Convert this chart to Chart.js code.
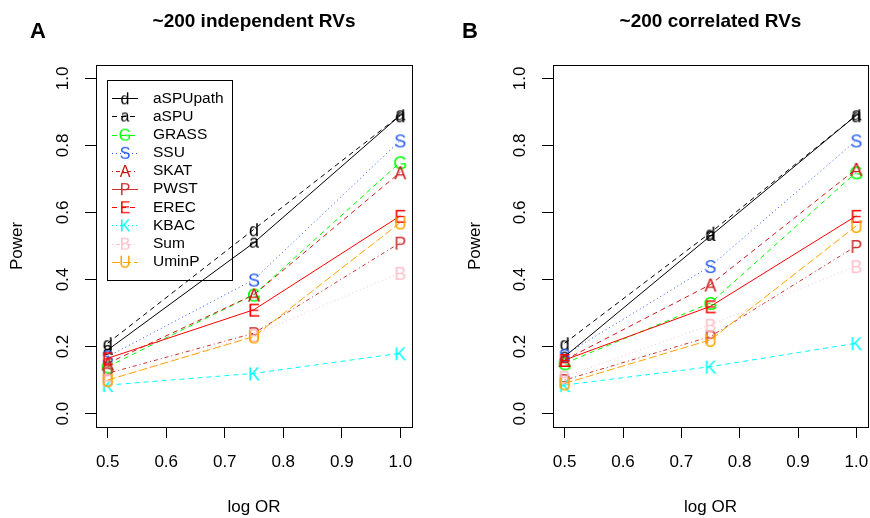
<!DOCTYPE html>
<html>
<head>
<meta charset="utf-8">
<script src="https://cdn.jsdelivr.net/npm/chart.js@4.4.0/dist/chart.umd.min.js"></script>
<style>
  html, body { margin: 0; padding: 0; background: #fff; }
  #wrap { position: relative; width: 870px; height: 518px; }
  .panel { position: absolute; top: 0; width: 435px; height: 518px; }
  #panelA { left: 0; }
  #panelB { left: 435px; }
</style>
</head>
<body>
<div id="wrap">
  <div class="panel" id="panelA"><canvas id="chartA" width="435" height="518"></canvas></div>
  <div class="panel" id="panelB"><canvas id="chartB" width="435" height="518"></canvas></div>
</div>
<script>
// --- data ---
const logOR = [0.5, 0.75, 1.0];
const xTicks = [0.5, 0.6, 0.7, 0.8, 0.9, 1.0];
const yTicks = [0.0, 0.2, 0.4, 0.6, 0.8, 1.0];

const methods = ['aSPUpath', 'aSPU', 'GRASS', 'SSU', 'SKAT', 'PWST', 'EREC', 'KBAC', 'Sum', 'UminP'];
const symbols = ['d', 'a', 'G', 'S', 'A', 'P', 'E', 'K', 'B', 'U'];

// power at logOR 0.5 / 0.75 / 1.0, one row per method (same order as methods)
const powerIndependent = [
    [0.21, 0.55, 0.89],   // aSPUpath
    [0.19, 0.51, 0.89],   // aSPU
    [0.14, 0.355, 0.75],  // GRASS
    [0.17, 0.40, 0.815],  // SSU
    [0.15, 0.355, 0.72],  // SKAT
    [0.12, 0.24, 0.51],   // PWST
    [0.165, 0.31, 0.59],  // EREC
    [0.085, 0.12, 0.18],  // KBAC
    [0.10, 0.235, 0.42],  // Sum
    [0.10, 0.23, 0.57]    // UminP
];
const powerCorrelated = [
    [0.21, 0.54, 0.89],
    [0.17, 0.53, 0.89],
    [0.15, 0.33, 0.72],
    [0.175, 0.44, 0.815],
    [0.16, 0.385, 0.73],
    [0.10, 0.23, 0.50],
    [0.16, 0.32, 0.59],
    [0.085, 0.14, 0.21],
    [0.11, 0.265, 0.44],
    [0.09, 0.22, 0.56]
];

// --- styles ---
const colors = ['#000000', '#000000', '#00ff00', '#2157f5', '#cc1a1a', '#cd3333', '#ff0000', '#00ffff', '#ffc0cb', '#ffa500'];
const DASH = [5, 4], DOT = [1, 3], DOTDASH = [1, 3, 4, 3], LONG = [8, 3];
const plotDash = [DASH, [], DASH, DOT, DASH, DOTDASH, [], DASH, DOT, LONG];
const legendDash = [[], DASH, DASH, DOT, DOTDASH, [], DASH, DOT, DOTDASH, LONG];

const FONT = '"Liberation Sans", Arial, Helvetica, sans-serif';

function letterCanvas(ch, color, size) {
    const c = document.createElement('canvas');
    c.width = 30; c.height = 30;
    const g = c.getContext('2d');
    g.font = size + 'px ' + FONT;
    g.fillStyle = color;
    g.textAlign = 'center';
    g.textBaseline = 'alphabetic';
    const m = g.measureText(ch);
    g.fillText(ch, 15, 15 + (m.actualBoundingBoxAscent - m.actualBoundingBoxDescent) / 2);
    return c;
}

const pointMarks = symbols.map((s, i) => letterCanvas(s, colors[i], 18));
const legendMarks = symbols.map((s, i) => letterCanvas(s, colors[i], 16));

// box, title, panel tag and legend
const frame = {
    id: 'frame',
    afterDraw(chart, args, opts) {
        const { ctx, chartArea: a } = chart;
        ctx.save();
        ctx.strokeStyle = '#000';
        ctx.lineWidth = 1;
        ctx.strokeRect(Math.round(a.left) + 0.5, Math.round(a.top) + 0.5,
            Math.round(a.right - a.left), Math.round(a.bottom - a.top));

        ctx.fillStyle = '#000';
        ctx.textAlign = 'center';
        ctx.textBaseline = 'middle';
        ctx.font = 'bold 19px ' + FONT;
        ctx.fillText(opts.title, (a.left + a.right) / 2, 22);
        ctx.font = 'bold 22px ' + FONT;
        ctx.fillText(opts.tag, opts.tagX, 32);

        if (opts.legend) {
            const bx = Math.round(a.left) + 11, by = Math.round(a.top) + 15;
            ctx.strokeStyle = '#000';
            ctx.strokeRect(bx + 0.5, by + 0.5, 125, 200);
            methods.forEach((m, i) => {
                const yy = by + 18.3 + i * 18.16;
                ctx.strokeStyle = colors[i];
                ctx.setLineDash(legendDash[i]);
                ctx.beginPath();
                ctx.moveTo(bx + 5, Math.round(yy) + 0.5);
                ctx.lineTo(bx + 31, Math.round(yy) + 0.5);
                ctx.stroke();
                ctx.setLineDash([]);
                const mk = legendMarks[i];
                ctx.drawImage(mk, bx + 18 - mk.width / 2, yy - mk.height / 2);
                ctx.fillStyle = '#000';
                ctx.textAlign = 'left';
                ctx.font = '15.5px ' + FONT;
                ctx.fillText(m, bx + 46, yy);
            });
        }
        ctx.restore();
    }
};

function makeChart(id, table, o) {
    const axisFont = { family: FONT, size: 17 };
    const ctx = document.getElementById(id).getContext('2d');
    return new Chart(ctx, {
        type: 'line',
        data: {
            datasets: methods.map((m, i) => ({
                label: m,
                data: logOR.map((x, j) => ({ x, y: table[i][j] })),
                borderColor: colors[i],
                backgroundColor: colors[i],
                borderWidth: 1,
                borderDash: plotDash[i],
                pointStyle: pointMarks[i],
                pointRadius: 9,
                fill: false,
                tension: 0,
                order: -i
            }))
        },
        options: {
            responsive: false,
            animation: false,
            layout: { autoPadding: false, padding: { left: 0, right: o.padRight, top: 65, bottom: 0 } },
            plugins: {
                legend: { display: false },
                tooltip: { enabled: false },
                frame: { title: o.title, tag: o.tag, tagX: o.tagX, legend: o.legend }
            },
            scales: {
                x: {
                    type: 'linear',
                    min: 0.48, max: 1.02,
                    afterBuildTicks: s => { s.ticks = xTicks.map(v => ({ value: v })); },
                    afterFit: s => { s.height = 91; s.paddingLeft = 0; s.paddingRight = 0; },
                    grid: { drawOnChartArea: false, drawTicks: true, tickLength: 11, color: '#000', lineWidth: 1 },
                    border: { display: false },
                    ticks: { color: '#000', font: axisFont, padding: 14, maxRotation: 0, callback: v => v.toFixed(1) },
                    title: { display: true, text: 'log OR', color: '#000', font: axisFont, padding: { top: 0, bottom: 0 } }
                },
                y: {
                    type: 'linear',
                    min: -0.04, max: 1.04,
                    afterBuildTicks: s => { s.ticks = yTicks.map(v => ({ value: v })); },
                    afterFit: s => { s.width = o.yWidth; s.paddingTop = 0; s.paddingBottom = 0; },
                    grid: { drawOnChartArea: false, drawTicks: true, tickLength: 11, color: '#000', lineWidth: 1 },
                    border: { display: false },
                    ticks: { color: '#000', font: axisFont, padding: 10, minRotation: 90, maxRotation: 90, crossAlign: 'center', callback: v => v.toFixed(1) },
                    title: { display: true, text: 'Power', color: '#000', font: axisFont, padding: { top: o.yTitlePad, bottom: 0 } }
                }
            }
        },
        plugins: [frame]
    });
}

makeChart('chartA', powerIndependent, { title: '~200 independent RVs', tag: 'A', tagX: 38, legend: true, padRight: 23, yWidth: 96, yTitlePad: 7 });
makeChart('chartB', powerCorrelated, { title: '~200 correlated RVs', tag: 'B', tagX: 35, legend: false, padRight: 2, yWidth: 118, yTitlePad: 30 });
</script>
</body>
</html>
